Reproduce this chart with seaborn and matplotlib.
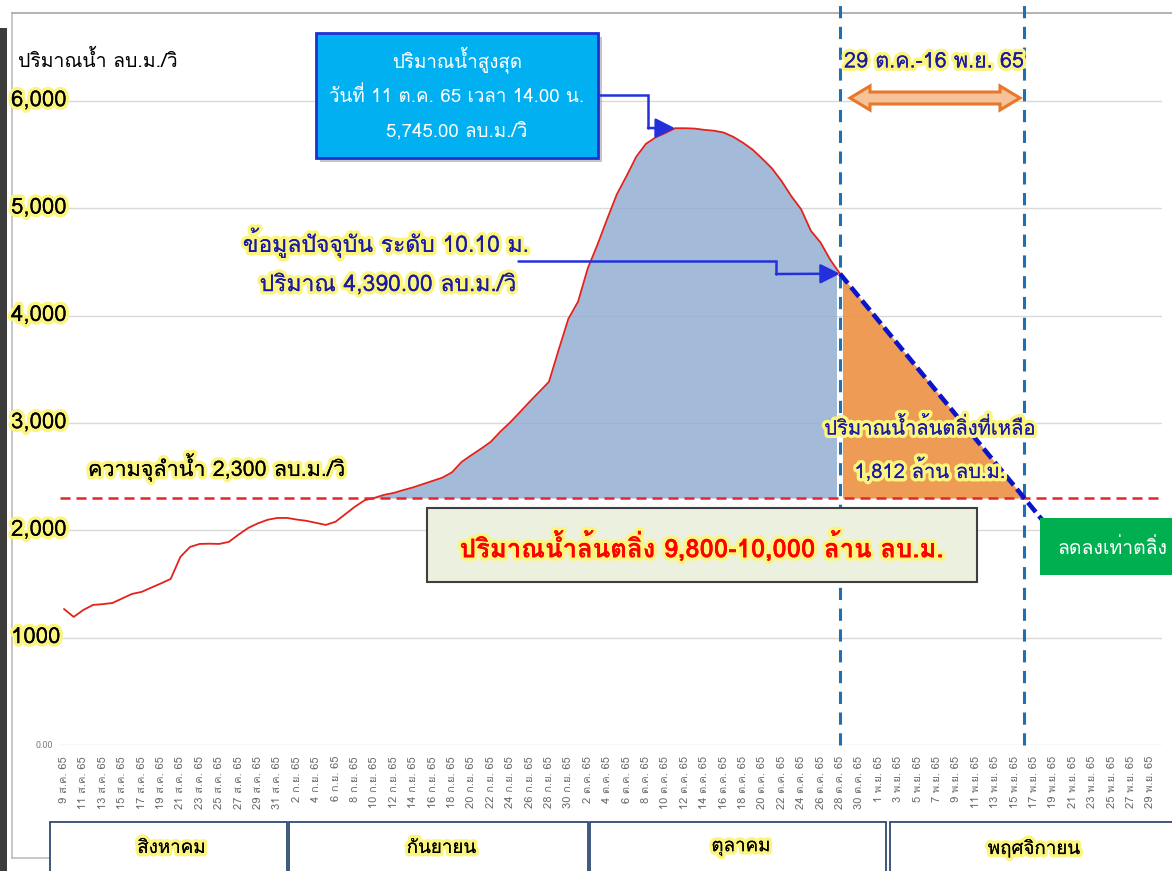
import numpy as np
import pandas as pd
import matplotlib
matplotlib.use("Agg")
import matplotlib.pyplot as plt
import matplotlib.dates as mdates
import matplotlib.patheffects as pe
import matplotlib.transforms as mtransforms
from matplotlib.patches import Rectangle, Polygon
from matplotlib.lines import Line2D
import seaborn as sns

# ---------------- data ----------------
start_date = "2022-08-09"
# daily discharge at the station, m3/s (9 Aug - 28 Oct 2022)
flow = [1267, 1193, 1258, 1305, 1312, 1323, 1365, 1407, 1426, 1466,
        1505, 1547, 1752, 1845, 1873, 1875, 1873, 1892, 1960, 2022,
        2065, 2098, 2115, 2115, 2100, 2088, 2069, 2050, 2080, 2150,
        2220, 2280, 2302, 2330, 2348, 2375, 2400, 2430, 2460, 2490,
        2540, 2637, 2700, 2760, 2824, 2920, 3005, 3100, 3197, 3290,
        3383, 3681, 3970, 4130, 4440, 4660, 4900, 5130, 5300, 5480,
        5600, 5660, 5700, 5745, 5745, 5742, 5730, 5722, 5705, 5665,
        5610, 5545, 5460, 5370, 5250, 5110, 4990, 4790, 4680, 4520,
        4390]
bank_capacity = 2300            # m3/s
peak_flow = 5745.00
current_flow = 4390.00
current_level = 10.10
# projected recession to bank level
proj_dates = ["2022-10-28", "2022-11-16", "2022-11-19"]
proj_flow = [4390, 2300, 1970]
axis_end_date = "2022-11-30"

thai_month_abbr = {8: "ส.ค.", 9: "ก.ย.", 10: "ต.ค.", 11: "พ.ย."}
month_names = ["สิงหาคม", "กันยายน", "ตุลาคม", "พฤศจิกายน"]
y_ticks = [0, 1000, 2000, 3000, 4000, 5000, 6000]
y_tick_labels = ["0.00", "1000", "2,000", "3,000", "4,000", "5,000", "6,000"]

# ---------------- style ----------------
sns.set_theme(style="white")
plt.rcParams["font.family"] = ["Loma", "DejaVu Sans"]

W, H = 1172, 871
def fx(px):
    return px / W
def fy(py):
    return 1 - py / H

fig = plt.figure(figsize=(W / 100, H / 100), dpi=100)
ax = fig.add_axes([fx(60), fy(745), fx(1162) - fx(60), fy(30) - fy(745)])

df = pd.DataFrame({"date": pd.date_range(start_date, periods=len(flow), freq="D"),
                   "flow": flow})
d0 = mdates.date2num(pd.Timestamp(start_date))
d_now = mdates.date2num(pd.Timestamp(proj_dates[0]))
d_bank = mdates.date2num(pd.Timestamp(proj_dates[1]))
d_end = mdates.date2num(pd.Timestamp(axis_end_date))

ax.set_xlim(d0 - 0.41, d_end + 0.2)
ax.set_ylim(0, 6660)
for s in ax.spines.values():
    s.set_visible(False)

# horizontal grid
ax.yaxis.grid(True, color="#d9d9d9", lw=1)
ax.xaxis.grid(False)
ax.set_axisbelow(True)

# area above bank capacity (observed)
blue_fill = ax.fill_between(df["date"], df["flow"], bank_capacity,
                            where=df["flow"] >= bank_capacity, interpolate=True,
                            color="#93afd3", alpha=0.85, lw=0, zorder=1)
clip_blue = Rectangle((d0 - 5, 0), (d_now - 0.45) - (d0 - 5), 10000,
                      transform=ax.transData)
blue_fill.set_clip_path(clip_blue)

# remaining volume above bank (projected)
pdates = pd.to_datetime(proj_dates)
orange_fill = ax.fill_between(pdates[:2], proj_flow[:2], bank_capacity,
                              color="#ec9346", alpha=0.92, lw=0, zorder=1)
clip_orange = Rectangle((d_now + 0.35, 0), 100, 10000, transform=ax.transData)
orange_fill.set_clip_path(clip_orange)

# observed discharge
sns.lineplot(data=df, x="date", y="flow", color="#e3221c", lw=1.3, ax=ax, zorder=3)

# bank capacity
ax.axhline(bank_capacity, color="#e3262a", lw=1.8, ls=(0, (4, 2.4)), zorder=4)

# projected recession
ax.plot(pdates, proj_flow, color="#0c14c8", lw=3.3, ls=(0, (2.7, 1.1)), zorder=6,
        solid_capstyle="butt")

# period markers
blend = mtransforms.blended_transform_factory(ax.transData, ax.transAxes)
for dv in (d_now, d_bank):
    ax.plot([dv, dv], [0, 1.045], transform=blend, clip_on=False,
            color="#1f6fb4", lw=2.2, ls=(0, (4, 2.8)), zorder=5)

# x ticks every 2 days
tick_dates = pd.date_range(start_date, axis_end_date, freq="2D")
tick_labels = [f"{d.day} {thai_month_abbr[d.month]} 65" for d in tick_dates]
ax.set_xticks(tick_dates)
ax.set_xticklabels(tick_labels, rotation=90, fontsize=8, color="#6a6a6a")
ax.tick_params(axis="x", length=0, pad=8)
ax.set_xlabel("")
ax.set_ylabel("")

# y ticks
glow = [pe.withStroke(linewidth=5, foreground="#fbf57e")]
ax.set_yticks(y_ticks)
ax.set_yticklabels([])
ax.tick_params(axis="y", length=0)
ytrans = mtransforms.blended_transform_factory(fig.transFigure, ax.transData)
for v, lab in zip(y_ticks, y_tick_labels):
    if v == 0:
        fig.text(fx(53), 0, lab, transform=ytrans, fontsize=6.5, color="#7f7f7f",
                 ha="right", va="center")
    else:
        t = fig.text(fx(11), v, lab, transform=ytrans, fontsize=16, color="black",
                     ha="left", va="center", zorder=6)
        t.set_path_effects(glow + [pe.Normal()])

fig.text(fx(18), fy(60), "ปริมาณน้ำ ลบ.ม./วิ", fontsize=14, color="black",
         ha="left", va="center")

# ---------------- frame decoration ----------------
fig.add_artist(Rectangle((0, 0), fx(7), fy(28), transform=fig.transFigure,
                         fc="#3c3c3c", ec="none", zorder=0))
fig.add_artist(Line2D([fx(12), fx(12)], [fy(858), fy(13)], transform=fig.transFigure,
                      color="#bdbdbd", lw=1.2, zorder=0))
fig.add_artist(Line2D([fx(12), 1], [fy(13), fy(13)], transform=fig.transFigure,
                      color="#a6a6a6", lw=1.2, zorder=0))
fig.add_artist(Line2D([fx(12), fx(60)], [fy(858), fy(858)], transform=fig.transFigure,
                      color="#bdbdbd", lw=1.2, zorder=0))

# month table
month_spans = [(50, 287), (289, 588), (590, 886), (890, 1185)]
for (a, b), name in zip(month_spans, month_names):
    fig.add_artist(Rectangle((fx(a), fy(875)), fx(b) - fx(a), fy(822) - fy(875),
                             transform=fig.transFigure, fc="white", ec="#2f4a72",
                             lw=1.3, zorder=2))
    t = fig.text(fx((a + min(b, W)) / 2 + 3), fy(848), name, fontsize=13.5,
                 color="black", ha="center", va="center", zorder=3)
    t.set_path_effects(glow + [pe.Normal()])

# ---------------- annotations ----------------
def box(x0, y0, x1, y1, fc, ec, lw, shadow=False):
    if shadow:
        fig.add_artist(Rectangle((fx(x0 + 4), fy(y1 + 4)), fx(x1) - fx(x0),
                                 fy(y0) - fy(y1), transform=fig.transFigure,
                                 fc="#7f7f7f", ec="none", alpha=0.45, zorder=6))
    fig.add_artist(Rectangle((fx(x0), fy(y1)), fx(x1) - fx(x0), fy(y0) - fy(y1),
                             transform=fig.transFigure, fc=fc, ec=ec, lw=lw, zorder=7))

def elbow_arrow(points, target):
    xs = [fx(p[0]) for p in points]
    ys = [fy(p[1]) for p in points]
    fig.add_artist(Line2D(xs, ys, transform=fig.transFigure, color="#2430dc",
                          lw=1.8, zorder=8, solid_joinstyle="miter"))
    ax.annotate("", xy=target, xycoords="data",
                xytext=(xs[-1], ys[-1]), textcoords="figure fraction",
                arrowprops=dict(arrowstyle="-|>,head_length=1.0,head_width=0.5",
                                color="#2430dc", lw=1.8, shrinkA=0, shrinkB=0),
                zorder=8)

# peak callout
box(316, 33, 598, 158, "#00b0f0", "#1f2fd6", 2, shadow=True)
peak_idx = int(np.argmax(flow))
peak_date = df["date"][peak_idx]
fig.text(fx(457), fy(60), "ปริมาณน้ำสูงสุด", fontsize=13.5, color="white",
         ha="center", va="center", zorder=9)
fig.text(fx(457), fy(96), "วันที่ 11 ต.ค. 65 เวลา 14.00 น.", fontsize=13.5,
         color="white", ha="center", va="center", zorder=9)
fig.text(fx(457), fy(131), f"{peak_flow:,.2f} ลบ.ม./วิ", fontsize=13.5,
         color="white", ha="center", va="center", zorder=9)
elbow_arrow([(598, 95), (648, 95), (648, 128)],
            (mdates.date2num(peak_date), peak_flow))

# current condition callout
navy = "#1a1aa6"
t = fig.text(fx(386), fy(243), f"ข้อมูลปัจจุบัน ระดับ {current_level:.2f} ม.",
             fontsize=16.5, color=navy, ha="center", va="center", zorder=9)
t.set_path_effects(glow + [pe.Normal()])
t = fig.text(fx(388), fy(285), f"ปริมาณ {current_flow:,.2f} ลบ.ม./วิ",
             fontsize=16.5, color=navy, ha="center", va="center", zorder=9)
t.set_path_effects(glow + [pe.Normal()])
elbow_arrow([(518, 261), (776, 261), (776, 274)], (d_now, current_flow))

# bank capacity label
t = fig.text(fx(88), fy(467), f"ความจุลำน้ำ {bank_capacity:,} ลบ.ม./วิ", fontsize=15.5,
             color="black", ha="left", va="center", zorder=9)
t.set_path_effects(glow + [pe.Normal()])

# overflow volume box
box(427, 508, 977, 582, "#ebf1de", "#3f3f3f", 1.5)
t = fig.text(fx(702), fy(546), "ปริมาณน้ำล้นตลิ่ง 9,800-10,000 ล้าน ลบ.ม.",
             fontsize=18.5, color="#ff0000", fontweight="bold",
             ha="center", va="center", zorder=9)
t.set_path_effects(glow + [pe.Normal()])

# projection period
t = fig.text(fx(934), fy(62), "29 ต.ค.-16 พ.ย. 65", fontsize=15.5, color=navy,
             ha="center", va="center", zorder=9)
t.set_path_effects(glow + [pe.Normal()])
arrow_pts = [(850, 98), (870, 86), (870, 92), (1000, 92), (1000, 86), (1020, 98),
             (1000, 110), (1000, 104), (870, 104), (870, 110)]
fig.add_artist(Polygon([(fx(a), fy(b)) for a, b in arrow_pts], closed=True,
                       transform=fig.transFigure, fc="#f6c29a", ec="#e8772a",
                       lw=2.2, zorder=9))

# remaining volume label
t = fig.text(fx(930), fy(428), "ปริมาณน้ำล้นตลิ่งที่เหลือ", fontsize=14.5,
             color=navy, ha="center", va="center", zorder=9)
t.set_path_effects(glow + [pe.Normal()])
t = fig.text(fx(930), fy(470), "1,812 ล้าน ลบ.ม.", fontsize=14.5,
             color=navy, ha="center", va="center", zorder=9)
t.set_path_effects(glow + [pe.Normal()])

# falling to bank level
box(1040, 518, 1185, 575, "#00b050", "none", 0)
fig.text(fx(1112), fy(548), "ลดลงเท่าตลิ่ง", fontsize=14, color="white",
         ha="center", va="center", zorder=9)

fig.savefig("out.png", dpi=100)
